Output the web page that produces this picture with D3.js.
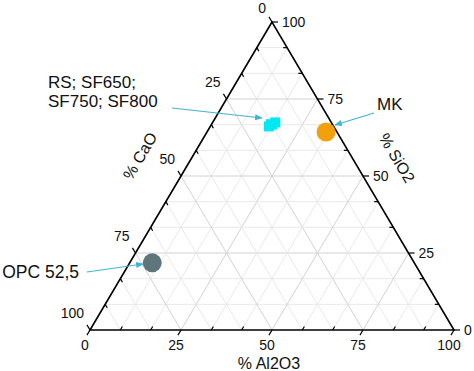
<!DOCTYPE html>
<html><head><meta charset="utf-8">
<script src="https://cdn.jsdelivr.net/npm/d3@7"></script>
<style>
html,body{margin:0;padding:0;background:#fff;}
text{font-family:"Liberation Sans",Arial,sans-serif;fill:#111;}
</style></head>
<body>
<svg id="c" width="474" height="371"></svg>
<script>
// ---- data (CaO, Al2O3, SiO2 in %) ----
const names   = ["RS", "SF650", "SF750", "SF800", "MK", "OPC 52,5"];
const CaO     = [17.8, 16.6, 15.4, 16.9, 3.0, 72.0];
const Al2O3   = [16.1, 16.7, 17.2, 16.3, 32.7, 6.2];
const SiO2    = [66.1, 66.7, 67.4, 66.8, 64.3, 21.8];
const shapes  = ["square", "square", "square", "square", "circle", "circle"];
const colors  = ["#00e8f2", "#00e8f2", "#00e8f2", "#00e8f2", "#f2a10c", "#5e767b"];
const majorTicks = [0, 25, 50, 75, 100];
const tickStep = 25 / 3;

const svg = d3.select("#c");
const xs = d3.scaleLinear().domain([0, 100]).range([90, 454]);
const ys = d3.scaleLinear().domain([0, 100]).range([330, 22]);
// barycentric -> screen
const P = (c, a, s) => [xs(a + s / 2), ys(s)];

const all = d3.range(0, 100 + 1e-6, tickStep).map(v => Math.round(v * 1000) / 1000);
const isMajor = v => Math.abs(v / 25 - Math.round(v / 25)) < 1e-6;
const inner = all.filter(v => v > 0.01 && v < 99.99);

// grid
const grid = svg.append("g");
function gl(p1, p2, major) {
  grid.append("line").attr("x1", p1[0]).attr("y1", p1[1]).attr("x2", p2[0]).attr("y2", p2[1])
    .attr("stroke", major ? "#d2d2d2" : "#e9e9e9").attr("stroke-width", 1);
}
inner.forEach(v => {
  const m = isMajor(v);
  gl(P(100 - v, 0, v), P(0, 100 - v, v), m);        // SiO2 = v
  gl(P(v, 0, 100 - v), P(v, 100 - v, 0), m);        // CaO = v
  gl(P(0, v, 100 - v), P(100 - v, v, 0), m);        // Al2O3 = v
});

// frame
const T = P(0, 0, 100), BL = P(100, 0, 0), BR = P(0, 100, 0);
svg.append("path").attr("d", d3.line()([T, BL, BR, T]) + "Z")
  .attr("fill", "none").attr("stroke", "#000").attr("stroke-width", 1.6);

// ticks
const axG = svg.append("g").attr("stroke", "#000").attr("stroke-width", 1.2);
const norm = (dx, dy) => { const l = Math.hypot(dx, dy); return [dx / l, dy / l]; };
const dirBottom = norm(-(T[0] - BL[0]), -(T[1] - BL[1]));  // outward for Al2O3
const dirLeft = norm(-(BR[0] - T[0]), -(BR[1] - T[1]));    // outward for CaO
const dirRight = [1, 0];                                    // outward for SiO2
function tick(p, d, major) {
  const L = major ? 6 : -4;
  axG.append("line").attr("x1", p[0]).attr("y1", p[1])
    .attr("x2", p[0] + d[0] * L).attr("y2", p[1] + d[1] * L);
}
all.forEach(v => {
  const m = isMajor(v);
  tick(P(100 - v, v, 0), dirBottom, m);
  tick(P(v, 0, 100 - v), dirLeft, m);
  tick(P(0, 100 - v, v), dirRight, m);
});

// tick labels
const lab = svg.append("g").style("font-size", "14px");
majorTicks.forEach(v => {
  const pb = P(100 - v, v, 0);
  lab.append("text").attr("x", pb[0] - 5).attr("y", 350).attr("text-anchor", "middle").text(v);
  const pl = P(v, 0, 100 - v);
  lab.append("text").attr("x", pl[0] - 6).attr("y", Math.max(pl[1] - 12, 12.5)).attr("text-anchor", "end").text(v);
  const pr = P(0, 100 - v, v);
  lab.append("text").attr("x", pr[0] + 10).attr("y", pr[1] + 5).attr("text-anchor", "start").text(v);
});

// axis titles
const tt = svg.append("g").style("font-size", "16px");
tt.append("text").attr("x", 269).attr("y", 369).attr("text-anchor", "middle").text("% Al2O3");
const angL = Math.atan2(T[1] - BL[1], T[0] - BL[0]) * 180 / Math.PI;
const angR = Math.atan2(BR[1] - T[1], BR[0] - T[0]) * 180 / Math.PI;
tt.append("text").attr("transform", `translate(140,156) rotate(${angL})`)
  .attr("text-anchor", "middle").attr("dy", "0.35em").text("% CaO");
tt.append("text").attr("transform", `translate(397,158) rotate(${angR})`)
  .attr("text-anchor", "middle").attr("dy", "0.35em").text("% SiO2");

// points
const pts = svg.append("g");
names.forEach((n, i) => {
  const p = P(CaO[i], Al2O3[i], SiO2[i]);
  if (shapes[i] === "square") {
    pts.append("rect").attr("x", p[0] - 5).attr("y", p[1] - 5).attr("width", 10).attr("height", 10)
      .attr("fill", colors[i]);
  } else {
    pts.append("circle").attr("cx", p[0]).attr("cy", p[1]).attr("r", 9.5).attr("fill", colors[i]);
  }
});

// annotations
const ac = "#3fb4d4";
svg.append("defs").append("marker").attr("id", "ah").attr("viewBox", "0 0 10 10")
  .attr("refX", 9).attr("refY", 5).attr("markerWidth", 7).attr("markerHeight", 7)
  .attr("orient", "auto").append("path").attr("d", "M0,1 L10,5 L0,9 Z").attr("fill", ac);
const arrows = [[172, 108, 262, 118], [374, 113, 335, 125], [87, 272, 143, 264]];
arrows.forEach(a => svg.append("line").attr("x1", a[0]).attr("y1", a[1]).attr("x2", a[2]).attr("y2", a[3])
  .attr("stroke", ac).attr("stroke-width", 1.1).attr("marker-end", "url(#ah)"));
const an = svg.append("g").style("font-size", "17px");
an.append("text").attr("x", 48).attr("y", 88).text("RS; SF650;");
an.append("text").attr("x", 48).attr("y", 107).text("SF750; SF800");
an.append("text").attr("x", 377).attr("y", 110).text("MK");
an.append("text").attr("x", 79).attr("y", 278).attr("text-anchor", "end").style("font-size", "17.5px").text("OPC 52,5");
</script>
</body></html>
